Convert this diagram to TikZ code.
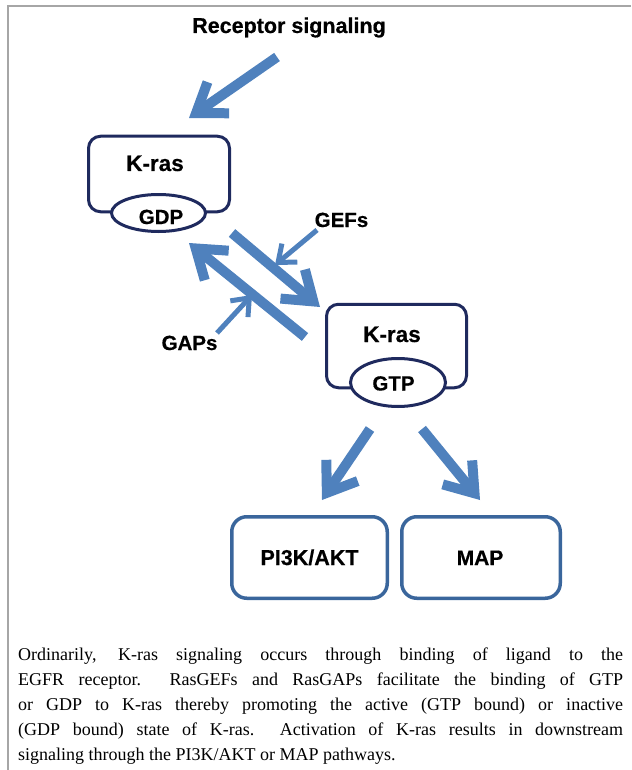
\documentclass[tikz,border=0pt]{standalone}
\usepackage{fontspec}
\setmainfont{Liberation Serif}
\newfontfamily\lsans[BoldFeatures={FakeBold=0.5}]{Liberation Sans}
\usetikzlibrary{arrows.meta,shapes.geometric}
\definecolor{arrowblue}{HTML}{4F81BD}
\definecolor{navy}{HTML}{1F2A5E}
\definecolor{boxblue}{HTML}{3A669C}
\definecolor{framegray}{HTML}{A6A6A6}
\begin{document}
\begin{tikzpicture}[x=1pt,y=-1pt,
  lbl/.style={font=\lsans\bfseries\fontsize{#1}{24}\selectfont, inner sep=0pt, anchor=base},
  lbl/.default=20.5,
  kbox/.style={draw=navy, line width=3pt, rounded corners=12pt, inner sep=0pt, fill=white},
  nuc/.style={ellipse, draw=navy, line width=3pt, fill=white, inner sep=0pt},
  pbox/.style={draw=boxblue, line width=3.5pt, rounded corners=15pt, inner sep=0pt},
  bigarrow/.style={draw=arrowblue, line width=10pt, -{Straight Barb[length=27pt,width=38pt]}},
  thinarrow/.style={draw=arrowblue, line width=5pt, -{Straight Barb[length=15pt,width=24pt]}},
]
\useasboundingbox (0,0) rectangle (631,770);
% frame
\coordinate (fbl) at (8,770);
\coordinate (ftl) at (8,6);
\coordinate (ftr) at (631,6);
\draw[framegray, line width=2pt] (fbl) -- (ftl) -- (ftr);

% boxes
\node[kbox, minimum width=141pt, minimum height=75.5pt] (box1) at (159,174) {};
\node[nuc, minimum width=94pt, minimum height=37pt] (gdpell) at (158.5,213) {};
\node[kbox, minimum width=140pt, minimum height=83.5pt] (box2) at (396.5,346) {};
\node[nuc, minimum width=95pt, minimum height=48pt] (gtpell) at (398,382.5) {};
\node[pbox, minimum width=155.5pt, minimum height=81.5pt] (pi3k) at (309.5,557.5) {};
\node[pbox, minimum width=158.5pt, minimum height=81.5pt] (map) at (481,557.5) {};

% labels
\node[lbl=21.5] (rec) at (289,33) {Receptor signaling};
\node[lbl=22.5] (kras1) at (155,171) {K-ras};
\node[lbl=20.5] (gdp) at (161,224) {GDP};
\node[lbl=22.5] (kras2) at (392,342) {K-ras};
\node[lbl=20.5] (gtp) at (393.5,390.5) {GTP};
\node[lbl=20.5] (gefs) at (341.5,227) {GEFs};
\node[lbl=20.5] (gaps) at (189.5,350) {GAPs};
\node[lbl=21.5] (pi3kt) at (309.5,565) {PI3K/AKT};
\node[lbl=21] (mapt) at (480,565) {MAP};

% arrow end points
\coordinate (ra) at (277,57);   \coordinate (rb) at (189,118);
\coordinate (fa) at (232,233);  \coordinate (fb) at (320,307);
\coordinate (ba) at (305,337);  \coordinate (bb) at (189,243);
\coordinate (ga) at (317,230);  \coordinate (gb) at (275,265);
\coordinate (pa) at (217,333);  \coordinate (pb) at (252,295);
\coordinate (la) at (370,429);  \coordinate (lb) at (322,500);
\coordinate (ma) at (422,429);  \coordinate (mb) at (480,500);

\draw[bigarrow] (ra) -- (rb);
\draw[bigarrow] (fa) -- (fb);
\draw[bigarrow] (ba) -- (bb);
\draw[thinarrow] (ga) -- (gb);
\draw[thinarrow] (pa) -- (pb);
\draw[bigarrow] (la) -- (lb);
\draw[bigarrow] (ma) -- (mb);

% caption
\node[anchor=north west, inner sep=0pt, align=left, font=\fontsize{18}{25}\selectfont] (cap) at (18,648)
{\hbox to 605pt{Ordinarily, K-ras signaling occurs through binding of ligand to the}\\
\hbox to 605pt{EGFR receptor.\ \ RasGEFs and RasGAPs facilitate the binding of GTP}\\
\hbox to 605pt{or GDP to K-ras thereby promoting the active (GTP bound) or inactive}\\
\hbox to 605pt{(GDP bound) state of K-ras.\ \ Activation of K-ras results in downstream}\\
signaling through the PI3K/AKT or MAP pathways.};
\end{tikzpicture}
\end{document}
